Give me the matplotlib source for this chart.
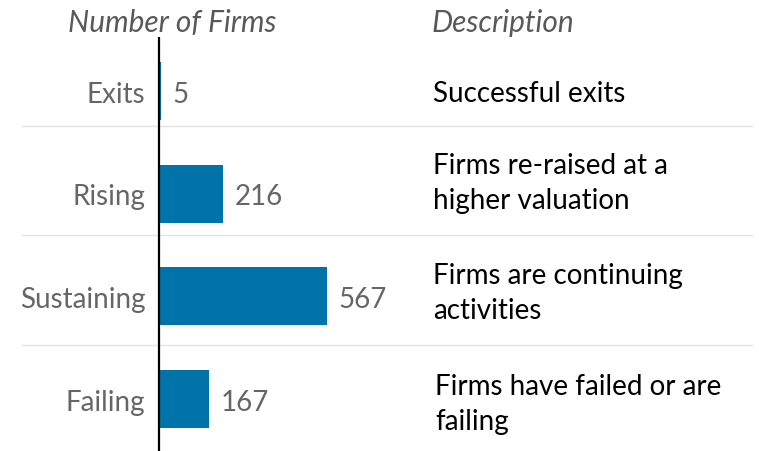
import matplotlib.pyplot as plt
from matplotlib import transforms

# firm outcomes, top to bottom
categories = ["Exits", "Rising", "Sustaining", "Failing"]
firm_counts = [5, 216, 567, 167]
descriptions = [
    "Successful exits",
    "Firms re-raised at a\nhigher valuation",
    "Firms are continuing\nactivities",
    "Firms have failed or are\nfailing",
]

plt.rcParams['font.family'] = ['Lato', 'DejaVu Sans']

BAR_COLOR = "#0073a8"
GRAY = "#666666"
FS = 20

fig = plt.figure(figsize=(7.59, 4.52), dpi=100)
ax = fig.add_axes([0, 0, 1, 1])
ax.set_xlim(-537, 2025)
ax.set_ylim(3.505, -0.896)
ax.axis("off")

rows = list(range(len(categories)))
ax.barh(rows, firm_counts, height=0.565, color=BAR_COLOR, zorder=2)

# light row separators
for y in [0.34, 1.40, 2.47]:
    ax.axhline(y, xmin=22 / 759, xmax=752 / 759, color="#e3e3e3", lw=1, zorder=1)

# vertical baseline
ax.vlines(0, -0.53, 3.505, color="black", lw=1.6, zorder=3)

fig_x = transforms.blended_transform_factory(fig.transFigure, ax.transData)
desc_shift = [0.02, -0.11, -0.04, 0.04]
desc_x = [433, 433, 433, 435]

for i, (cat, n, desc) in enumerate(zip(categories, firm_counts, descriptions)):
    ax.annotate(cat, xy=(0, i), xytext=(-10, 0), textcoords="offset points",
                ha="right", va="center_baseline", fontsize=FS, color=GRAY)
    ax.annotate(str(n), xy=(n, i), xytext=(8.5, 0), textcoords="offset points",
                ha="left", va="center_baseline", fontsize=FS, color=GRAY)
    ax.text(desc_x[i] / 759, i + desc_shift[i], desc, transform=fig_x,
            ha="left", va="center", fontsize=FS, color="black", linespacing=1.45)

fig.text(172 / 759, 1 - 23 / 452, "Number of Firms", ha="center", va="center",
         fontsize=21.5, style="italic", color="#595959")
fig.text(432 / 759, 1 - 23 / 452, "Description", ha="left", va="center",
         fontsize=21.5, style="italic", color="#595959")

fig.savefig("out.png", dpi=100)
